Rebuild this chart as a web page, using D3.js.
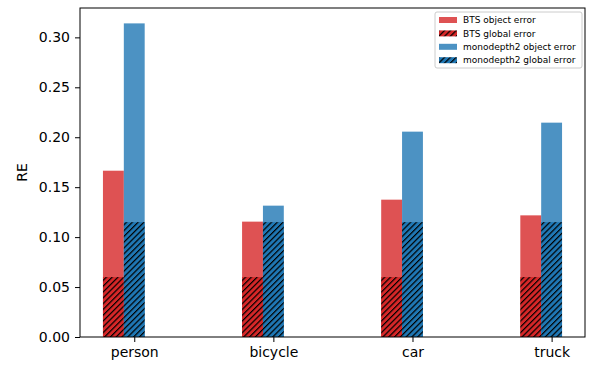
<!DOCTYPE html>
<html>
<head>
<meta charset="utf-8">
<script src="https://cdn.jsdelivr.net/npm/d3@7"></script>
<style>
  body { margin: 0; background: #fff; }
  svg { font-family: "DejaVu Sans", sans-serif; }
</style>
</head>
<body>
<div id="chart"></div>
<script>
// Data
const categories = ["person", "bicycle", "car", "truck"];
const btsObject = [0.1665, 0.1155, 0.1375, 0.1218];
const btsGlobal = [0.060, 0.060, 0.060, 0.060];
const monoObject = [0.314, 0.1315, 0.2056, 0.2146];
const monoGlobal = [0.115, 0.115, 0.115, 0.115];
const yTicks = [0, 0.05, 0.10, 0.15, 0.20, 0.25, 0.30];
const legendLabels = ["BTS object error", "BTS global error", "monodepth2 object error", "monodepth2 global error"];

const width = 589, height = 365;
const margin = { left: 80, right: 4, top: 8, bottom: 28 };
const barW = 0.15;

const svg = d3.select("#chart").append("svg")
    .attr("width", width)
    .attr("height", height);

// hatch patterns
const defs = svg.append("defs");
function hatch(id, color) {
    const p = defs.append("pattern")
        .attr("id", id)
        .attr("patternUnits", "userSpaceOnUse")
        .attr("width", 4.1)
        .attr("height", 10)
        .attr("patternTransform", "rotate(45)");
    p.append("rect").attr("width", 4.1).attr("height", 10).attr("fill", color);
    p.append("line")
        .attr("x1", 0.6).attr("y1", 0).attr("x2", 0.6).attr("y2", 10)
        .attr("stroke", "#000").attr("stroke-width", 1.2);
}
hatch("hatchRed", "#d62728");
hatch("hatchBlue", "#1f77b4");

const x = d3.scaleLinear()
    .domain([-0.39, 3.24])
    .range([margin.left, width - margin.right]);

const y = d3.scaleLinear()
    .domain([0, 0.3294])
    .range([height - margin.bottom, margin.top]);

const red = "rgba(214,39,40,0.8)";
const blue = "rgba(31,119,180,0.8)";

// bars: BTS centred left of tick, monodepth2 centred on tick
const series = [
    { vals: btsObject, off: -barW, fill: red },
    { vals: monoObject, off: 0, fill: blue },
    { vals: btsGlobal, off: -barW, fill: "url(#hatchRed)" },
    { vals: monoGlobal, off: 0, fill: "url(#hatchBlue)" }
];

series.forEach(s => {
    svg.append("g").selectAll("rect")
        .data(s.vals)
        .join("rect")
        .attr("x", (d, i) => x(i + s.off - barW / 2))
        .attr("width", x(barW) - x(0))
        .attr("y", d => y(d))
        .attr("height", d => y(0) - y(d))
        .attr("fill", s.fill);
});

// axes
const xAxis = svg.append("g")
    .attr("transform", `translate(0,${height - margin.bottom})`)
    .call(d3.axisBottom(x).tickValues(d3.range(categories.length))
        .tickFormat(i => categories[i]).tickSize(5).tickPadding(5));

const yAxis = svg.append("g")
    .attr("transform", `translate(${margin.left},0)`)
    .call(d3.axisLeft(y).tickValues(yTicks)
        .tickFormat(d3.format(".2f")).tickSize(5).tickPadding(5));

[xAxis, yAxis].forEach(g => {
    g.select(".domain").remove();
    g.selectAll("text").attr("font-size", 14).attr("fill", "#000")
        .attr("font-family", "DejaVu Sans");
    g.selectAll("line").attr("stroke", "#000").attr("stroke-width", 1);
});

// frame
svg.append("rect")
    .attr("x", margin.left)
    .attr("y", margin.top)
    .attr("width", width - margin.right - margin.left)
    .attr("height", height - margin.bottom - margin.top)
    .attr("fill", "none")
    .attr("stroke", "#000")
    .attr("stroke-width", 1);

// y label
svg.append("text")
    .attr("transform", `translate(27,${(margin.top + height - margin.bottom) / 2}) rotate(-90)`)
    .attr("text-anchor", "middle")
    .attr("font-size", 14)
    .text("RE");

// legend
const legend = svg.append("g").attr("transform", "translate(435,12)");
legend.append("rect")
    .attr("width", 147).attr("height", 56)
    .attr("rx", 2)
    .attr("fill", "#fff").attr("fill-opacity", 0.8)
    .attr("stroke", "#ccc").attr("stroke-width", 1);
const legendFills = [red, "url(#hatchRed)", blue, "url(#hatchBlue)"];
legendLabels.forEach((lab, i) => {
    const row = legend.append("g").attr("transform", `translate(0,${8 + i * 13.4})`);
    row.append("rect")
        .attr("x", 4).attr("y", -3).attr("width", 18).attr("height", 6)
        .attr("fill", legendFills[i]);
    row.append("text")
        .attr("x", 28).attr("y", 3.2)
        .attr("font-size", 9)
        .text(lab);
});
</script>
</body>
</html>
